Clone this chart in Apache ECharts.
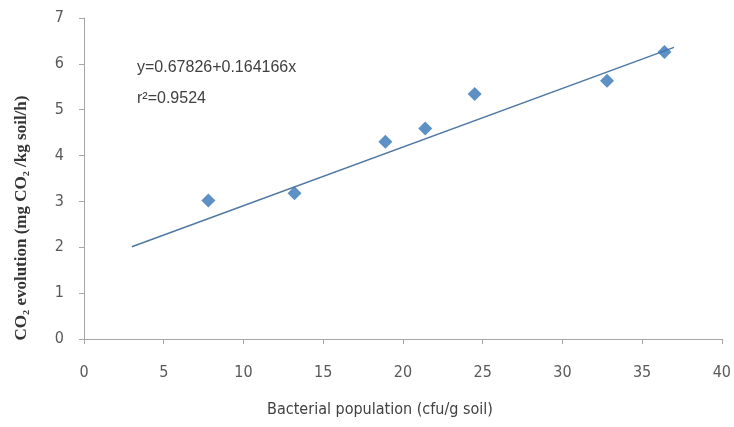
<!DOCTYPE html>
<html>
<head>
<meta charset="utf-8">
<script src="https://cdn.jsdelivr.net/npm/echarts@6/dist/echarts.min.js"></script>
<style>html,body{margin:0;padding:0;background:#fff}#c{width:734px;height:427px}</style>
</head>
<body>
<div id="c"></div>
<script>
var popX = [7.8, 13.2, 18.9, 21.4, 24.5, 32.8, 36.4];
var co2Y = [3.02, 3.18, 4.30, 4.59, 5.34, 5.63, 6.26];
var trendX = [3.0, 37.0];
var trendY = [2.01, 6.36];
var xTicks = [0, 5, 10, 15, 20, 25, 30, 35, 40];
var yTicks = [0, 1, 2, 3, 4, 5, 6, 7];
var eqLine1 = 'y=0.67826+0.164166x';
var eqLine2 = 'r\u00B2=0.9524';
var xTitle = 'Bacterial population (cfu/g soil)';
var yTitle = 'CO\u2082 evolution (mg CO\u2082 /kg soil/h)';

var chart = echarts.init(document.getElementById('c'), null, {renderer: 'canvas'});
var axisGray = '#a6a6a6';
var labelGray = '#595959';
var narrow = '"Liberation Sans Narrow", "DejaVu Sans Condensed", sans-serif';
chart.setOption({
  animation: false,
  backgroundColor: '#fff',
  grid: {left: 84, right: 12, top: 18, bottom: 88, containLabel: false},
  xAxis: {
    type: 'value', min: xTicks[0], max: xTicks[xTicks.length - 1], interval: 5,
    axisLine: {show: true, lineStyle: {color: axisGray, width: 1}},
    axisTick: {show: true, length: 5, lineStyle: {color: axisGray}},
    splitLine: {show: false},
    axisLabel: {color: labelGray, fontSize: 16, fontFamily: narrow, margin: 26}
  },
  yAxis: {
    type: 'value', min: yTicks[0], max: yTicks[yTicks.length - 1], interval: 1,
    axisLine: {show: true, lineStyle: {color: axisGray, width: 1}},
    axisTick: {show: true, length: 5, lineStyle: {color: axisGray}},
    splitLine: {show: false},
    axisLabel: {color: labelGray, fontSize: 16, fontFamily: narrow, margin: 20}
  },
  series: [
    {
      type: 'line', data: trendX.map(function (x, i) { return [x, trendY[i]]; }),
      showSymbol: false, symbol: 'none',
      lineStyle: {color: '#4f77a3', width: 1.5}, z: 2
    },
    {
      type: 'scatter', data: popX.map(function (x, i) { return [x, co2Y[i]]; }),
      symbol: 'diamond', symbolSize: 14,
      itemStyle: {color: '#3574b5'}, z: 3
    }
  ],
  graphic: [
    {type: 'text', x: 137, y: 68, style: {text: eqLine1, fill: '#404040', font: '16px "Liberation Sans", sans-serif', textVerticalAlign: 'middle'}},
    {type: 'text', x: 137, y: 99, style: {text: eqLine2, fill: '#404040', font: '16px "Liberation Sans", sans-serif', textVerticalAlign: 'middle'}},
    {type: 'text', x: 380, y: 410, style: {text: xTitle, fill: '#404040', font: '16px ' + narrow, textAlign: 'center', textVerticalAlign: 'middle'}},
    {type: 'text', x: 22, y: 218, rotation: Math.PI / 2, style: {text: yTitle, fill: '#333', font: 'bold 17px "Liberation Serif", serif', textAlign: 'center', textVerticalAlign: 'middle'}}
  ]
});
</script>
</body>
</html>
